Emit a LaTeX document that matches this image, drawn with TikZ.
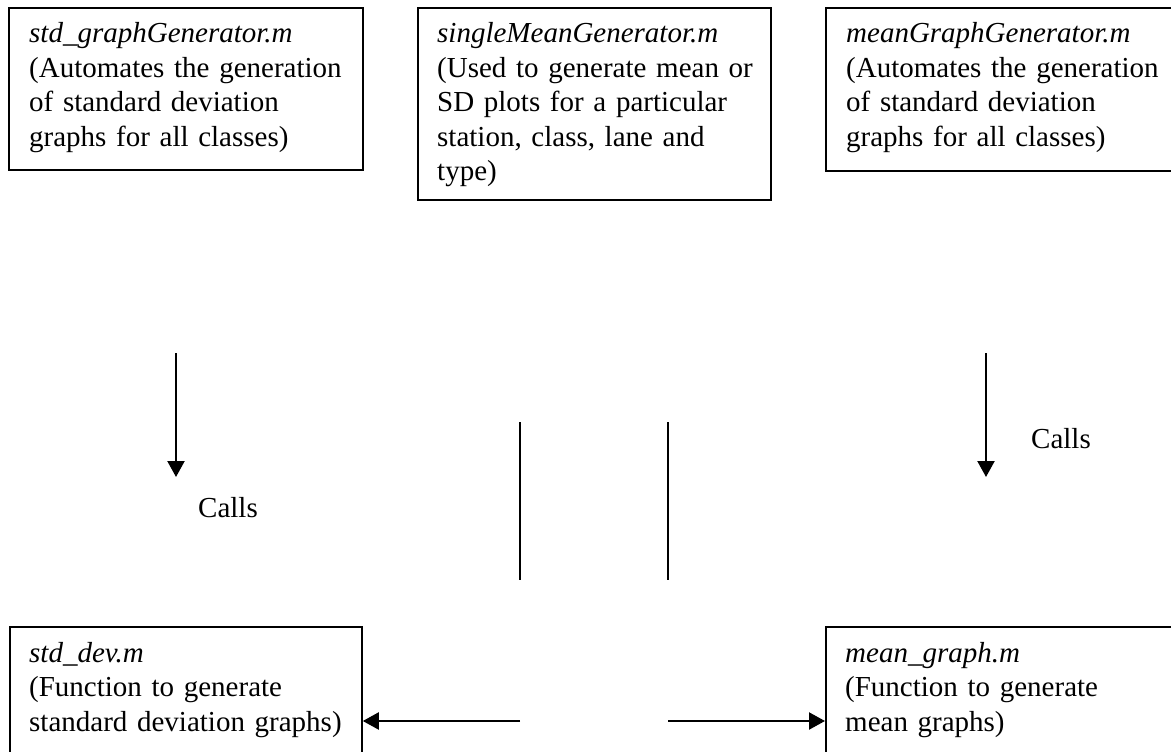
\documentclass[tikz,border=0pt]{standalone}
\usepackage{fontspec}
\setmainfont{Liberation Serif}
\usetikzlibrary{arrows.meta}

\begin{document}
\begin{tikzpicture}[x=1pt,y=-1pt,
  filebox/.style={draw, line width=1.8pt, rectangle, anchor=north west, inner sep=0pt},
  boxtext/.style={anchor=base west, inner sep=0pt, align=left, text width=340pt,
    font=\fontsize{29}{34.5}\selectfont},
  plain/.style={anchor=base west, inner sep=0pt, font=\fontsize{29}{34.5}\selectfont},
  link/.style={line width=2.2pt},
  callarrow/.style={line width=2.2pt, -{Triangle[length=16pt,width=17pt]}}]
  \useasboundingbox (0,0) rectangle (1171,752);

  % script and function boxes
  \node[filebox, minimum width=354pt, minimum height=162pt] (stdgen) at (8,7) {};
  \node[filebox, minimum width=353pt, minimum height=192pt] (single) at (417,7) {};
  \node[filebox, minimum width=354pt, minimum height=163pt] (meangen) at (825,7) {};
  \node[filebox, minimum width=352pt, minimum height=160pt] (stddev) at (9,626) {};
  \node[filebox, minimum width=354pt, minimum height=160pt] (meangraph) at (825,626) {};

  % box contents: file name in italics, description upright
  \node[boxtext] (stdgentxt) at (29,43) {\textit{std\_graphGenerator.m}\\
    (Automates the generation\\ of standard deviation\\ graphs for all classes)};
  \node[boxtext] (singletxt) at (437,43) {\textit{singleMeanGenerator.m}\\
    (Used to generate mean or\\ SD plots for a particular\\ station, class, lane and\\ type)};
  \node[boxtext] (meangentxt) at (846,43) {\textit{meanGraphGenerator.m}\\
    (Automates the generation\\ of standard deviation\\ graphs for all classes)};
  \node[boxtext] (stddevtxt) at (29,662) {\textit{std\_dev.m}\\
    (Function to generate\\ standard deviation graphs)};
  \node[boxtext] (meangraphtxt) at (845,662) {\textit{mean\_graph.m}\\
    (Function to generate\\ mean graphs)};

  % "Calls" labels
  \node[plain] (callsl) at (198,517) {Calls};
  \node[plain] (callsr) at (1031,448) {Calls};

  % connector end points
  \coordinate (lfrom) at (176,353);
  \coordinate (lto) at (176,477);
  \coordinate (rfrom) at (986,353);
  \coordinate (rto) at (986,477);
  \coordinate (v1top) at (520,422);
  \coordinate (v1bot) at (520,580);
  \coordinate (v2top) at (668,422);
  \coordinate (v2bot) at (668,580);
  \coordinate (bl) at (520,721);
  \coordinate (br) at (668,721);

  % connectors
  \draw[callarrow] (lfrom) -- (lto);
  \draw[callarrow] (rfrom) -- (rto);
  \draw[link] (v1top) -- (v1bot);
  \draw[link] (v2top) -- (v2bot);
  \draw[callarrow] (bl) -- (stddev.east |- bl);
  \draw[callarrow] (br) -- (meangraph.west |- br);
\end{tikzpicture}
\end{document}
